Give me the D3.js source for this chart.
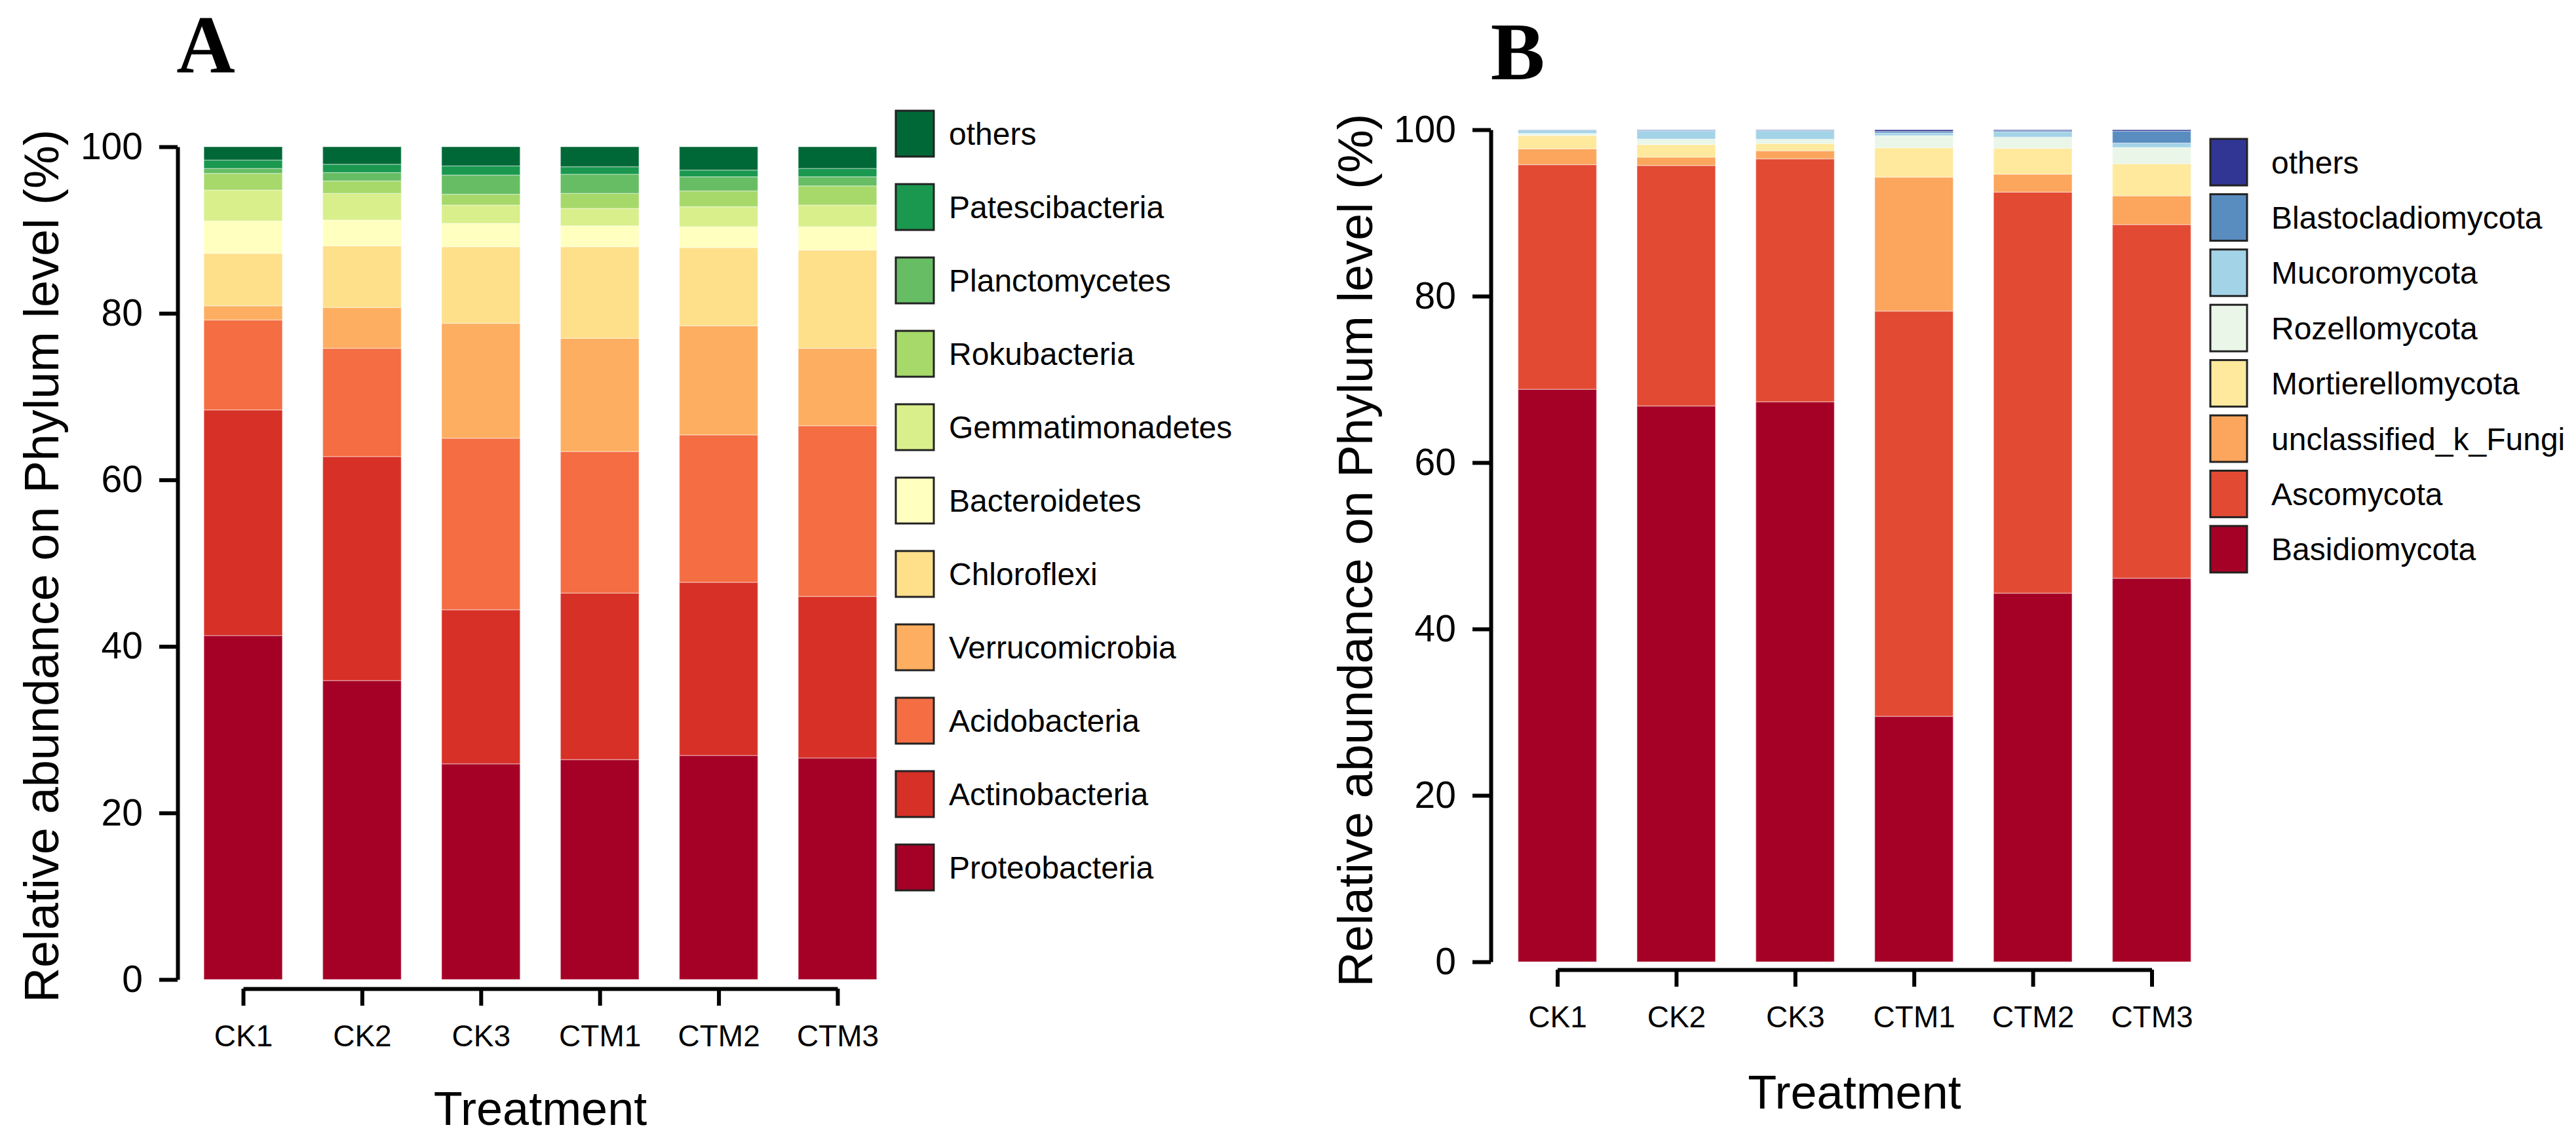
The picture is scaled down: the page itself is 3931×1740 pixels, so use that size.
<!DOCTYPE html>
<html>
<head>
<meta charset="utf-8">
<script src="https://cdn.jsdelivr.net/npm/d3@7"></script>
<style>
  body { margin: 0; background: #fff; }
  text { font-family: "Liberation Sans", Arial, sans-serif; fill: #000; }
  text.letter { font-family: "Liberation Serif", "Times New Roman", serif; font-weight: bold; }
</style>
</head>
<body>
<svg id="chart" width="3931" height="1740"></svg>
<script>
// Samples on the x axis
const treatments = ['CK1', 'CK2', 'CK3', 'CTM1', 'CTM2', 'CTM3'];
const yTicks = [0, 20, 40, 60, 80, 100];

// Panel A, bacteria (% per sample), bottom of the stack first
const proteobacteria   = [41.3, 35.9, 25.9, 26.4, 26.9, 26.6];
const actinobacteria   = [27.1, 26.9, 18.5, 20.0, 20.8, 19.4];
const acidobacteria    = [10.8, 13.0, 20.6, 17.0, 17.7, 20.5];
const verrucomicrobia  = [1.7, 4.9, 13.8, 13.6, 13.1, 9.3];
const chloroflexi      = [6.3, 7.4, 9.2, 11.0, 9.4, 11.8];
const bacteroidetes    = [3.9, 3.1, 2.8, 2.5, 2.5, 2.8];
const gemmatimonadetes = [3.7, 3.2, 2.2, 2.1, 2.4, 2.6];
const rokubacteria     = [2.0, 1.5, 1.3, 1.8, 1.9, 2.3];
const planctomycetes   = [0.6, 1.0, 2.3, 2.3, 1.7, 1.1];
const patescibacteria  = [1.0, 1.0, 1.1, 0.9, 0.8, 1.0];
const othersA          = [1.6, 2.1, 2.3, 2.4, 2.8, 2.6];

// Panel B, fungi (% per sample), bottom of the stack first
const basidiomycota      = [68.8, 66.8, 67.3, 29.5, 44.3, 46.1];
const ascomycota         = [27.0, 28.9, 29.2, 48.7, 48.2, 42.5];
const unclassifiedFungi  = [1.9, 1.0, 0.97, 16.1, 2.15, 3.45];
const mortierellomycota  = [1.6, 1.53, 0.87, 3.54, 3.12, 3.86];
const rozellomycota      = [0.26, 0.65, 0.52, 1.45, 1.34, 1.96];
const mucoromycota       = [0.39, 1.0, 1.04, 0.31, 0.63, 0.53];
const blastocladiomycota = [0.03, 0.08, 0.05, 0.2, 0.16, 1.44];
const othersB            = [0.02, 0.04, 0.05, 0.2, 0.1, 0.16];

const bacteria = [
    { name: 'Proteobacteria', values: proteobacteria },
    { name: 'Actinobacteria', values: actinobacteria },
    { name: 'Acidobacteria', values: acidobacteria },
    { name: 'Verrucomicrobia', values: verrucomicrobia },
    { name: 'Chloroflexi', values: chloroflexi },
    { name: 'Bacteroidetes', values: bacteroidetes },
    { name: 'Gemmatimonadetes', values: gemmatimonadetes },
    { name: 'Rokubacteria', values: rokubacteria },
    { name: 'Planctomycetes', values: planctomycetes },
    { name: 'Patescibacteria', values: patescibacteria },
    { name: 'others', values: othersA }
];

const fungi = [
    { name: 'Basidiomycota', values: basidiomycota },
    { name: 'Ascomycota', values: ascomycota },
    { name: 'unclassified_k_Fungi', values: unclassifiedFungi },
    { name: 'Mortierellomycota', values: mortierellomycota },
    { name: 'Rozellomycota', values: rozellomycota },
    { name: 'Mucoromycota', values: mucoromycota },
    { name: 'Blastocladiomycota', values: blastocladiomycota },
    { name: 'others', values: othersB }
];

// RdYlGn for bacteria, RdYlBu ramped to 8 steps for fungi
const coloursA = d3.schemeRdYlGn[11];
const coloursB = d3.quantize(d3.piecewise(d3.interpolateRgb, d3.schemeRdYlBu[11]), 8);

const svg = d3.select('#chart');

const drawPanel = (series, colours, layout) => {
    const g = svg.append('g');
    const keys = series.map((s) => s.name);

    // one row per sample for d3.stack
    const rows = treatments.map((t, i) => {
        const row = { treatment: t };
        series.forEach((s) => { row[s.name] = s.values[i]; });
        return row;
    });
    const stacked = d3.stack().keys(keys)(rows);

    const x = d3.scaleBand()
        .domain(treatments)
        .range(layout.xRange)
        .paddingInner(0.34)
        .paddingOuter(0.17);
    const y = d3.scaleLinear().domain([0, 100]).range([layout.yBottom, layout.yTop]);

    // bars
    g.selectAll('g.layer')
        .data(stacked)
        .enter().append('g')
        .attr('class', 'layer')
        .attr('fill', (d, i) => colours[i])
        .selectAll('rect')
        .data((d) => d)
        .enter().append('rect')
        .attr('x', (d) => x(d.data.treatment))
        .attr('width', x.bandwidth())
        .attr('y', (d) => y(d[1]))
        .attr('height', (d) => y(d[0]) - y(d[1]))
        .attr('stroke', '#fff')
        .attr('stroke-opacity', 0.35)
        .attr('stroke-width', 1.5);

    // y axis
    const yAxis = g.append('g')
        .attr('transform', `translate(${layout.yAxisX},0)`)
        .call(d3.axisLeft(y).tickValues(yTicks).tickSize(28).tickSizeOuter(0).tickPadding(25));
    yAxis.selectAll('path, line').attr('stroke', '#000').attr('stroke-width', 6);
    yAxis.selectAll('text').attr('font-size', 57);

    // x axis runs from first to last tick, set a little below the bars
    const xPoint = d3.scalePoint()
        .domain(treatments)
        .range([x(treatments[0]) + x.bandwidth() / 2, x(treatments[treatments.length - 1]) + x.bandwidth() / 2]);
    const xAxis = g.append('g')
        .attr('transform', `translate(0,${layout.xAxisY})`)
        .call(d3.axisBottom(xPoint).tickSize(26).tickSizeOuter(0).tickPadding(29));
    xAxis.selectAll('path, line').attr('stroke', '#000').attr('stroke-width', 6);
    xAxis.selectAll('text').attr('font-size', 46);

    // axis titles
    g.append('text')
        .attr('x', (xPoint.range()[0] + xPoint.range()[1]) / 2)
        .attr('y', layout.titleY)
        .attr('text-anchor', 'middle')
        .attr('font-size', 72)
        .text('Treatment');

    g.append('text')
        .attr('transform', `translate(${layout.yLabelX},${layout.yLabelY}) rotate(-90)`)
        .attr('text-anchor', 'middle')
        .attr('font-size', 74)
        .text('Relative abundance on Phylum level (%)');

    // panel letter (serif bold, set by the .letter class)
    g.append('text')
        .attr('class', 'letter')
        .attr('x', layout.letterX)
        .attr('y', layout.letterY)
        .attr('text-anchor', 'middle')
        .attr('font-size', 124)
        .text(layout.letter);

    // legend, top entry is the top of the stack
    const legend = g.append('g');
    const entries = series.map((s, i) => ({ name: s.name, colour: colours[i] })).reverse();
    const item = legend.selectAll('g')
        .data(entries)
        .enter().append('g')
        .attr('transform', (d, i) => `translate(${layout.keyX},${layout.keyTop + i * layout.keyStep})`);
    item.append('rect')
        .attr('width', layout.keyW)
        .attr('height', layout.keyH)
        .attr('fill', (d) => d.colour)
        .attr('stroke', '#222')
        .attr('stroke-width', 3);
    item.append('text')
        .attr('x', layout.textDx)
        .attr('y', layout.keyH / 2 + 17)
        .attr('font-size', 48)
        .text((d) => d.name);
};

drawPanel(bacteria, coloursA, {
    letter: 'A', letterX: 314, letterY: 110,
    xRange: [280.3, 1368.7], yTop: 224, yBottom: 1495,
    yAxisX: 271, xAxisY: 1509, titleY: 1717,
    yLabelX: 89, yLabelY: 864,
    keyX: 1367, keyTop: 169, keyStep: 112, keyW: 58, keyH: 70, textDx: 81
});

drawPanel(fungi, coloursB, {
    letter: 'B', letterX: 2316, letterY: 121,
    xRange: [2285.8, 3374.2], yTop: 198, yBottom: 1468,
    yAxisX: 2275, xAxisY: 1480, titleY: 1692,
    yLabelX: 2094, yLabelY: 840,
    keyX: 3373, keyTop: 212, keyStep: 84.4, keyW: 56, keyH: 71, textDx: 93
});
</script>
</body>
</html>
